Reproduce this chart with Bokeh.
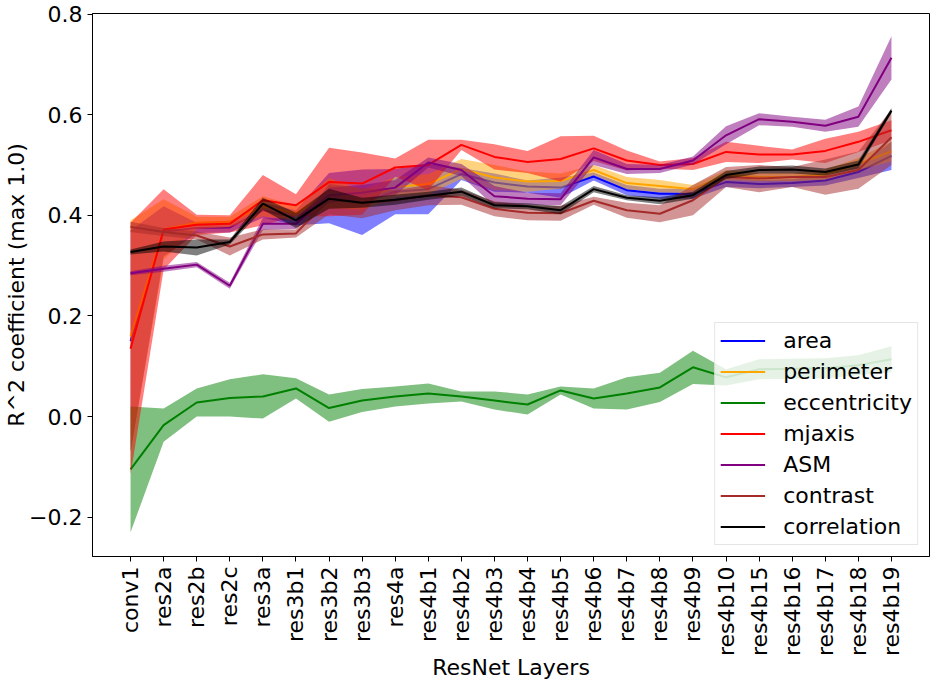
import math
from bokeh.plotting import figure
from bokeh.models import Range1d, FixedTicker, CustomJSTickFormatter, Legend, LegendItem
from bokeh.embed import file_html
from bokeh.resources import INLINE

layers = ["conv1", "res2a", "res2b", "res2c", "res3a", "res3b1", "res3b2", "res3b3",
          "res4a", "res4b1", "res4b2", "res4b3", "res4b4", "res4b5", "res4b6", "res4b7",
          "res4b8", "res4b9", "res4b10", "res4b15", "res4b16", "res4b17", "res4b18", "res4b19"]

area_mean = [0.150, 0.368, 0.375, 0.376, 0.410, 0.395, 0.434, 0.426, 0.447, 0.452, 0.482, 0.465,
             0.457, 0.455, 0.477, 0.450, 0.443, 0.443, 0.466, 0.462, 0.464, 0.469, 0.486, 0.518]
area_sd = [0.22, 0.05, 0.01, 0.01, 0.015, 0.015, 0.05, 0.065, 0.045, 0.05, 0.012, 0.018,
           0.012, 0.02, 0.008, 0.01, 0.01, 0.01, 0.01, 0.008, 0.008, 0.01, 0.012, 0.028]

perimeter_mean = [0.160, 0.372, 0.385, 0.387, 0.418, 0.404, 0.444, 0.431, 0.456, 0.462, 0.492, 0.475,
                  0.467, 0.468, 0.490, 0.464, 0.458, 0.452, 0.480, 0.476, 0.476, 0.481, 0.502, 0.527]
perimeter_sd = [0.23, 0.06, 0.012, 0.01, 0.02, 0.015, 0.03, 0.02, 0.02, 0.02, 0.02, 0.025,
                0.02, 0.015, 0.01, 0.012, 0.012, 0.008, 0.01, 0.008, 0.008, 0.01, 0.012, 0.02]

eccentricity_mean = [-0.105, -0.017, 0.028, 0.037, 0.040, 0.056, 0.017, 0.032, 0.040, 0.046, 0.040, 0.032,
                     0.024, 0.052, 0.036, 0.046, 0.058, 0.098, 0.078, 0.094, 0.095, 0.096, 0.102, 0.114]
eccentricity_sd = [0.125, 0.033, 0.028, 0.037, 0.044, 0.02, 0.027, 0.023, 0.02, 0.02, 0.01, 0.018,
                   0.02, 0.008, 0.02, 0.032, 0.029, 0.033, 0.016, 0.02, 0.02, 0.02, 0.02, 0.026]

mjaxis_mean = [0.135, 0.372, 0.381, 0.383, 0.430, 0.420, 0.466, 0.463, 0.495, 0.500, 0.540, 0.516,
               0.506, 0.512, 0.533, 0.509, 0.500, 0.502, 0.526, 0.521, 0.521, 0.528, 0.546, 0.569]
mjaxis_sd = [0.25, 0.08, 0.02, 0.017, 0.05, 0.022, 0.068, 0.062, 0.018, 0.05, 0.01, 0.025,
             0.022, 0.045, 0.025, 0.02, 0.007, 0.012, 0.02, 0.017, 0.01, 0.024, 0.02, 0.02]

asm_mean = [0.285, 0.294, 0.302, 0.260, 0.383, 0.383, 0.440, 0.445, 0.455, 0.505, 0.490, 0.438,
            0.433, 0.432, 0.515, 0.492, 0.492, 0.509, 0.559, 0.591, 0.586, 0.578, 0.596, 0.713]
asm_sd = [0.004, 0.006, 0.005, 0.006, 0.012, 0.01, 0.015, 0.015, 0.015, 0.01, 0.012, 0.02,
          0.012, 0.012, 0.015, 0.01, 0.008, 0.008, 0.018, 0.012, 0.01, 0.012, 0.02, 0.043]

contrast_mean = [0.377, 0.367, 0.360, 0.338, 0.362, 0.364, 0.432, 0.424, 0.430, 0.440, 0.436, 0.413,
                 0.405, 0.404, 0.429, 0.410, 0.403, 0.430, 0.476, 0.473, 0.476, 0.476, 0.490, 0.555]
contrast_sd = [0.01, 0.008, 0.008, 0.018, 0.01, 0.008, 0.03, 0.03, 0.02, 0.02, 0.015, 0.015,
               0.015, 0.015, 0.008, 0.015, 0.017, 0.03, 0.02, 0.027, 0.02, 0.035, 0.037, 0.055]

correlation_mean = [0.327, 0.338, 0.336, 0.347, 0.423, 0.390, 0.433, 0.425, 0.431, 0.439, 0.447, 0.420,
                    0.418, 0.410, 0.452, 0.435, 0.429, 0.440, 0.480, 0.490, 0.491, 0.486, 0.501, 0.608]
correlation_sd = [0.005, 0.01, 0.016, 0.005, 0.012, 0.015, 0.02, 0.01, 0.01, 0.008, 0.008, 0.006,
                  0.006, 0.008, 0.006, 0.005, 0.007, 0.007, 0.008, 0.007, 0.008, 0.007, 0.008, 0.005]

series_names = ["area", "perimeter", "eccentricity", "mjaxis", "ASM", "contrast", "correlation"]
series_means = [area_mean, perimeter_mean, eccentricity_mean, mjaxis_mean, asm_mean, contrast_mean, correlation_mean]
series_sds = [area_sd, perimeter_sd, eccentricity_sd, mjaxis_sd, asm_sd, contrast_sd, correlation_sd]
series_colors = ["#0000ff", "#ffa500", "#008000", "#ff0000", "#800080", "#a52a2a", "#000000"]

yticks = [-0.2, 0.0, 0.2, 0.4, 0.6, 0.8]
x_title = "ResNet Layers"
y_title = "R^2 coefficient (max 1.0)"

FONT = "DejaVu Sans"
FS = "22px"

p = figure(width=939, height=684, output_backend="svg", toolbar_location=None,
           x_range=Range1d(-1.15, 24.15), y_range=Range1d(-0.278, 0.801),
           min_border_left=92, min_border_right=10, min_border_top=13, min_border_bottom=128)

x = list(range(len(layers)))
legend_items = []
for name, m, s, c in zip(series_names, series_means, series_sds, series_colors):
    r = p.line(x, m, line_color=c, line_width=2)
    lo = [a - b for a, b in zip(m, s)]
    hi = [a + b for a, b in zip(m, s)]
    p.varea(x=x, y1=lo, y2=hi, fill_color=c, fill_alpha=0.5)
    legend_items.append(LegendItem(label=name, renderers=[r]))

p.xgrid.visible = False
p.ygrid.visible = False
p.outline_line_color = "black"
p.outline_line_width = 1
p.background_fill_color = "white"
p.border_fill_color = "white"

p.xaxis.ticker = FixedTicker(ticks=x)
p.xaxis.formatter = CustomJSTickFormatter(args=dict(labels=layers),
                                          code="return labels[Math.round(tick)] || '';")
p.xaxis.major_label_orientation = math.pi / 2
p.yaxis.ticker = FixedTicker(ticks=yticks)
p.yaxis.formatter = CustomJSTickFormatter(code="return tick.toFixed(1).replace('-', '\\u2212');")

for ax in (p.xaxis[0], p.yaxis[0]):
    ax.major_label_text_font = FONT
    ax.major_label_text_font_size = FS
    ax.major_label_text_color = "black"
    ax.axis_label_text_font = FONT
    ax.axis_label_text_font_size = FS
    ax.axis_label_text_font_style = "normal"
    ax.axis_label_text_color = "black"
    ax.minor_tick_line_color = None
    ax.major_tick_in = 0
    ax.major_tick_out = 5
    ax.major_tick_line_color = "black"
    ax.axis_line_color = "black"
    ax.major_label_standoff = 5

p.xaxis.axis_label = x_title
p.yaxis.axis_label = y_title
p.xaxis.axis_label_standoff = -4
p.yaxis.axis_label_standoff = -3

legend = Legend(items=legend_items, location="bottom_right",
                label_text_font=FONT, label_text_font_size=FS, label_text_color="black",
                background_fill_color="white", background_fill_alpha=0.8,
                border_line_color="#cccccc", border_line_width=1,
                glyph_width=45, glyph_height=25, label_standoff=18,
                spacing=6, padding=5, margin=11)
p.add_layout(legend, "center")

open("out.html", "w").write(file_html(p, INLINE))
